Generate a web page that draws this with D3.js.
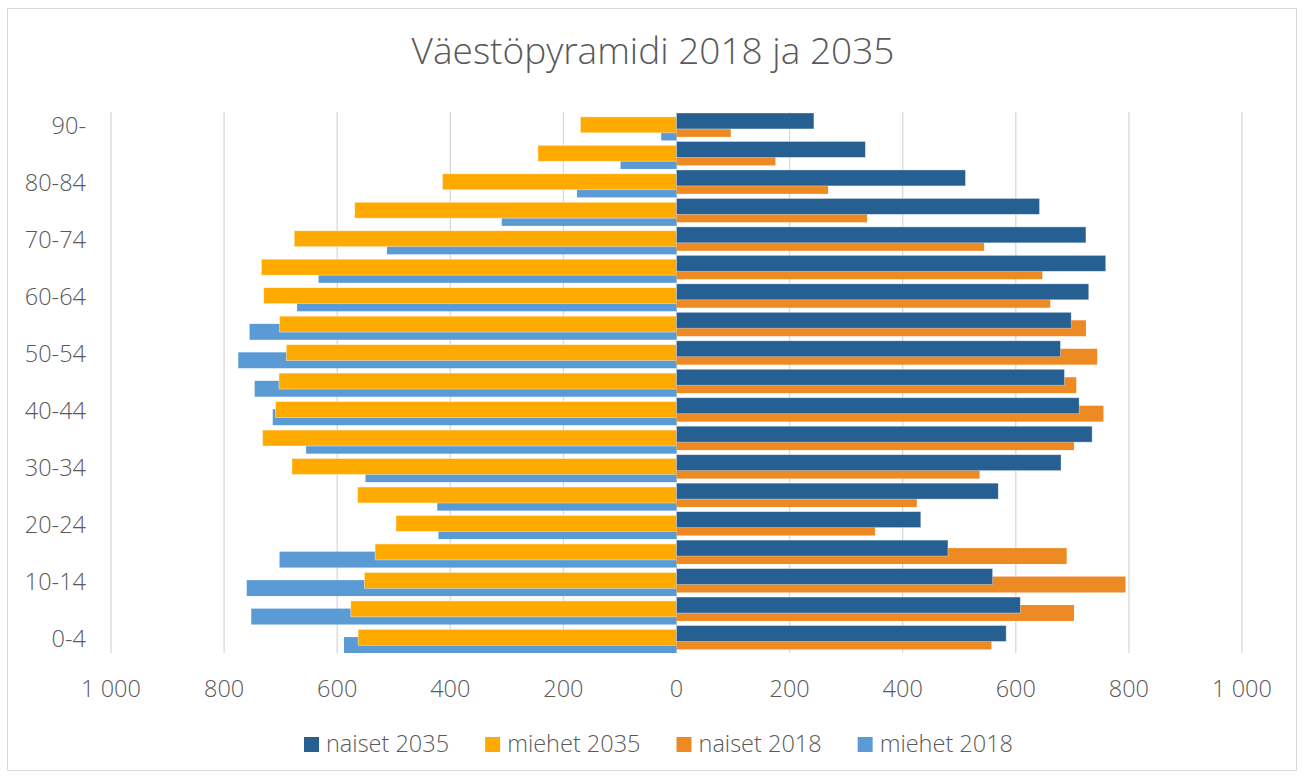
<!DOCTYPE html>
<html>
<head>
<meta charset="utf-8">
<script src="https://cdn.jsdelivr.net/npm/d3@7"></script>
<style>
  html, body { margin: 0; padding: 0; background: #ffffff; }
  svg { display: block; font-family: "Open Sans", "Noto Sans", sans-serif; font-weight: 300; }
</style>
</head>
<body>
<svg id="chart" width="1303" height="776"></svg>
<script>
// ---- data (bottom to top) ----
const categories = ["0-4","5-9","10-14","15-19","20-24","25-29","30-34","35-39","40-44","45-49",
                    "50-54","55-59","60-64","65-69","70-74","75-79","80-84","85-89","90-"];
const naiset2035 = [583, 608, 559, 480, 432, 569, 680, 735, 712, 686, 679, 698, 729, 759, 724, 642, 511, 334, 243];
const naiset2018 = [557, 703, 794, 690, 351, 425, 536, 703, 755, 707, 744, 724, 661, 647, 544, 337, 268, 175, 96];
const miehet2035 = [563, 576, 552, 533, 496, 564, 680, 732, 709, 703, 690, 702, 730, 734, 676, 569, 414, 245, 170];
const miehet2018 = [588, 752, 760, 702, 421, 423, 550, 655, 714, 746, 775, 755, 671, 633, 512, 309, 176, 99, 27];
const tickValues = [-1000, -800, -600, -400, -200, 0, 200, 400, 600, 800, 1000];
const shownLabels = ["0-4","10-14","20-24","30-34","40-44","50-54","60-64","70-74","80-84","90-"];
const seriesNames = ["naiset 2035", "miehet 2035", "naiset 2018", "miehet 2018"];
const seriesColors = ["#265f91", "#ffaa00", "#ee8a23", "#5b9bd5"];
const titleText = "Väestöpyramidi 2018 ja 2035";

// ---- layout ----
const svg = d3.select("#chart");
const plot = { left: 111, right: 1242, top: 112, bottom: 653 };
const textColor = "#595959";

svg.append("rect")
  .attr("x", 7.5).attr("y", 8.5).attr("width", 1289).attr("height", 762)
  .attr("fill", "#fff").attr("stroke", "#d9d9d9").attr("stroke-width", 1);

const x = d3.scaleLinear().domain([-1000, 1000]).range([plot.left, plot.right]);
const y = d3.scaleBand().domain(categories.slice().reverse()).range([plot.top, plot.bottom]).padding(0);
const bw = y.bandwidth();
const barH = 0.56 * bw;

// gridlines
svg.append("g").selectAll("line").data(tickValues).join("line")
  .attr("x1", d => x(d)).attr("x2", d => x(d))
  .attr("y1", plot.top).attr("y2", plot.bottom)
  .attr("stroke", "#d9d9d9").attr("stroke-width", 1.3);

const rows = categories.map((c, i) => ({
  cat: c, n35: naiset2035[i], n18: naiset2018[i], m35: miehet2035[i], m18: miehet2018[i]
}));

const g = svg.append("g");
// men 2018 (behind)
g.selectAll(".m18").data(rows).join("rect")
  .attr("x", d => x(-d.m18)).attr("width", d => x(0) - x(-d.m18))
  .attr("y", d => y(d.cat) + 0.44 * bw).attr("height", barH)
  .attr("fill", seriesColors[3]);
// men 2035
g.selectAll(".m35").data(rows).join("rect")
  .attr("x", d => x(-d.m35)).attr("width", d => x(0) - x(-d.m35))
  .attr("y", d => y(d.cat) + 0.17 * bw).attr("height", barH)
  .attr("fill", seriesColors[1]).attr("stroke", "rgba(255,255,255,0.5)").attr("stroke-width", 0.8);
// women 2018 (behind)
g.selectAll(".n18").data(rows).join("rect")
  .attr("x", x(0)).attr("width", d => x(d.n18) - x(0))
  .attr("y", d => y(d.cat) + 0.315 * bw).attr("height", barH)
  .attr("fill", seriesColors[2]);
// women 2035
g.selectAll(".n35").data(rows).join("rect")
  .attr("x", x(0)).attr("width", d => x(d.n35) - x(0))
  .attr("y", d => y(d.cat) + 0.035 * bw).attr("height", barH)
  .attr("fill", seriesColors[0]).attr("stroke", "rgba(255,255,255,0.45)").attr("stroke-width", 0.8);

// x axis labels
const fmt = v => {
  const a = Math.abs(v);
  return a >= 1000 ? Math.floor(a / 1000) + " " + String(a % 1000).padStart(3, "0") : String(a);
};
svg.append("g").selectAll("text").data(tickValues).join("text")
  .attr("x", d => x(d)).attr("y", 697)
  .attr("text-anchor", "middle").attr("font-size", 23.5).attr("fill", textColor)
  .text(fmt);

// y axis labels
svg.append("g").selectAll("text").data(shownLabels).join("text")
  .attr("x", 86).attr("y", d => y(d) + bw / 2)
  .attr("dy", "0.35em")
  .attr("text-anchor", "end").attr("font-size", 23.5).attr("fill", textColor)
  .text(d => d);

// title
svg.append("text")
  .attr("x", 653).attr("y", 64)
  .attr("text-anchor", "middle").attr("font-size", 37).attr("fill", textColor)
  .text(titleText);

// legend
const leg = svg.append("g");
let cx = 0;
seriesNames.forEach((name, i) => {
  const it = leg.append("g").attr("transform", `translate(${cx},0)`);
  it.append("rect").attr("x", 0).attr("y", 737).attr("width", 15).attr("height", 15).attr("fill", seriesColors[i]);
  const t = it.append("text").attr("x", 22).attr("y", 752)
    .attr("font-size", 23.5).attr("fill", textColor).text(name);
  const w = t.node().getComputedTextLength();
  cx += 22 + w + 36;
});
leg.attr("transform", `translate(${304},0)`);
</script>
</body>
</html>
